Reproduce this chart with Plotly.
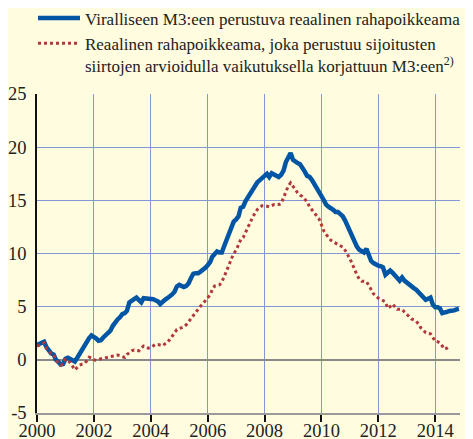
import plotly.graph_objects as go
import pandas as pd

# Monthly values, Jan 2000 onwards
official_m3 = [
    # 2000
    1.4, 1.5, 1.6, 1.7, 1.2, 0.8, 0.6, 0.5, 0.0, -0.2, -0.45, -0.4,
    # 2001
    0.1, 0.2, 0.1, -0.1, -0.15, 0.2, 0.6, 1.0, 1.4, 1.7, 2.05, 2.3,
    # 2002
    2.2, 2.0, 1.8, 1.85, 2.1, 2.35, 2.5, 2.75, 3.2, 3.6, 3.8, 4.0,
    # 2003
    4.3, 4.4, 4.6, 5.4, 5.6, 5.7, 5.85, 5.55, 5.4, 5.8, 5.8, 5.7,
    # 2004
    5.8, 5.7, 5.6, 5.5, 5.25, 5.5, 5.65, 5.8, 5.95, 6.15, 6.4, 6.9,
    # 2005
    7.05, 7.0, 6.85, 6.95, 7.2, 7.7, 8.1, 8.15, 8.15, 8.3, 8.45, 8.65,
    # 2006
    8.9, 9.2, 9.7, 10.0, 10.2, 10.1, 10.1, 10.7, 11.3, 11.7, 12.5, 13.0,
    # 2007
    13.2, 13.5, 14.3, 14.4, 14.9, 15.3, 15.7, 16.0, 16.3, 16.7, 16.9, 17.05,
    # 2008
    17.3, 17.5, 17.2, 17.55, 17.4, 17.25, 17.2, 17.4, 17.8, 18.6, 19.0, 19.45,
    # 2009
    18.8, 18.6, 18.5, 18.4, 18.1, 17.7, 17.3, 17.2, 16.9, 16.5, 16.1, 15.6,
    # 2010
    15.4, 15.0, 14.6, 14.4, 14.3, 14.1, 13.9, 13.9, 13.7, 13.5, 13.1, 12.6,
    # 2011
    12.1, 11.6, 11.1, 10.65, 10.35, 10.2, 10.1, 10.45, 9.7, 9.3, 9.1, 8.95,
    # 2012
    8.85, 8.8, 8.7, 8.0, 8.2, 8.4, 8.2, 8.0, 7.7, 7.45, 7.75, 7.45,
    # 2013
    7.25, 7.0, 6.9, 6.75, 6.6, 6.35, 6.2, 6.0, 5.65, 5.75, 5.85, 5.2,
    # 2014
    4.95, 4.95, 4.85, 4.4, 4.4, 4.5, 4.6, 4.6, 4.65, 4.75, 4.8,
]

adjusted_m3 = [
    # 2000
    1.3, 1.4, 1.5, 1.6, 1.1, 0.8, 0.6, 0.5, -0.05, -0.3, -0.5, -0.4,
    # 2001
    0.05, 0.0, -0.25, -0.6, -0.95, -0.7, -0.5, -0.4, -0.35, -0.1, 0.25, 0.2,
    # 2002
    0.0, -0.05, 0.05, 0.1, 0.15, 0.2, 0.25, 0.3, 0.35, 0.4, 0.45, 0.4,
    # 2003
    0.3, 0.22, 0.5, 0.7, 0.85, 0.92, 0.9, 0.85, 1.1, 1.3, 1.2, 1.1,
    # 2004
    1.15, 1.3, 1.45, 1.45, 1.35, 1.32, 1.5, 1.65, 1.9, 2.2, 2.6, 2.85,
    # 2005
    2.95, 3.0, 3.1, 3.3, 3.6, 3.9, 4.25, 4.5, 4.75, 5.05, 5.3, 5.55,
    # 2006
    5.8, 6.1, 6.6, 6.95, 7.0, 7.05, 7.3, 7.8, 8.4, 8.9, 9.5, 10.0,
    # 2007
    10.3, 10.9, 11.3, 11.5, 12.0, 12.5, 12.9, 13.4, 13.8, 14.15, 14.35, 14.5,
    # 2008
    14.5, 14.45, 14.4, 14.5, 14.6, 14.6, 14.6, 14.7, 15.3, 15.9, 16.35, 16.65,
    # 2009
    16.3, 16.0, 15.7, 15.5, 15.35, 15.1, 14.85, 14.4, 14.1, 13.75, 13.5, 13.25,
    # 2010
    12.7, 12.1, 11.8, 11.5, 11.25, 11.1, 10.97, 10.85, 10.75, 10.6, 10.3, 9.95,
    # 2011
    9.5, 9.0, 8.5, 8.0, 7.6, 7.4, 7.4, 7.35, 7.0, 6.6, 6.2, 6.0,
    # 2012
    5.8, 5.7, 5.55, 5.45, 4.85, 5.0, 5.25, 5.0, 4.75, 4.75, 4.75, 4.5,
    # 2013
    4.3, 4.1, 3.85, 3.75, 3.65, 3.35, 3.0, 2.8, 2.55, 2.5, 2.45, 2.1,
    # 2014
    1.75, 1.7, 1.6, 1.3, 1.0, 1.1, 1.25,
]

months_official = pd.date_range("2000-01-01", periods=len(official_m3), freq="MS")
months_adjusted = pd.date_range("2000-01-01", periods=len(adjusted_m3), freq="MS")

series_names = [
    "Viralliseen M3:een perustuva reaalinen rahapoikkeama",
    "Reaalinen rahapoikkeama, joka perustuu sijoitusten<br>siirtojen arvioidulla vaikutuksella korjattuun M3:een<sup>2)</sup>",
]
y_ticks = [-5, 0, 5, 10, 15, 20, 25]
x_tick_years = [2000, 2002, 2004, 2006, 2008, 2010, 2012, 2014]

BG = "#FFFCE0"
GRID = "#8197D6"
BLUE = "#0055A4"
RED = "#B0383A"
FONT = "Liberation Serif, Tinos, 'Times New Roman', serif"
TXT = "#222222"

fig = go.Figure()
fig.add_trace(go.Scatter(
    x=months_official, y=official_m3, mode="lines", name=series_names[0],
    line=dict(color=BLUE, width=4.5),
))
fig.add_trace(go.Scatter(
    x=months_adjusted, y=adjusted_m3, mode="lines", name=series_names[1],
    line=dict(color=RED, width=3, dash="3px,3px"),
))

# the page body adds an 8px offset, so the figure is 8px smaller than the window
fig.update_layout(
    width=465, height=431,
    margin=dict(l=29, r=13, t=86, b=26, autoexpand=False),
    paper_bgcolor=BG, plot_bgcolor=BG,
    font=dict(family=FONT, size=18, color=TXT),
    showlegend=True,
    legend=dict(
        x=-0.0095, y=1.293, xanchor="left", yanchor="top",
        bgcolor="rgba(0,0,0,0)", font=dict(family=FONT, size=17, color=TXT),
        itemwidth=42, valign="top", tracegroupgap=0,
    ),
    xaxis=dict(
        type="date",
        range=["2000-01-01", "2014-11-15"],
        tickvals=[f"{y}-01-01" for y in x_tick_years],
        ticktext=[str(y) for y in x_tick_years],
        showgrid=True, gridcolor=GRID, gridwidth=1.2,
        showline=True, linecolor="#9A9A9A", linewidth=2,
        ticks="outside", ticklen=7, tickcolor="#111111", tickwidth=1.5,
        ticklabelstandoff=-7,
        zeroline=False, automargin=False,
        tickfont=dict(family=FONT, size=18.5, color=TXT),
    ),
    yaxis=dict(
        range=[-5, 25],
        tickvals=y_ticks,
        ticktext=[str(v) for v in y_ticks],
        showgrid=False,
        minor=dict(tickvals=[5, 10, 15, 20], showgrid=True, gridcolor=GRID, gridwidth=1.2, ticks=""),
        showline=True, linecolor="#111111", linewidth=1.5,
        ticks="", ticklabelstandoff=5, automargin=False,
        zeroline=True, zerolinecolor="#8A8A8A", zerolinewidth=2,
        tickfont=dict(family=FONT, size=18.5, color=TXT),
    ),
)

fig.write_html("out.html")
